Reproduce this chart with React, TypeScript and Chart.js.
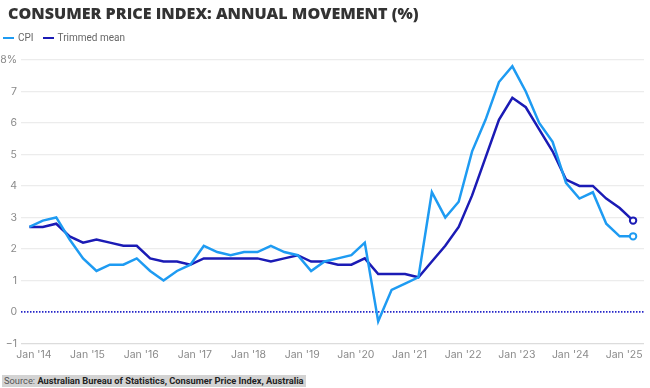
import React, { useEffect, useRef } from "react";
import { Chart, registerables } from "chart.js";

Chart.register(...registerables);

const quarters = [
  "2013-12", "2014-03", "2014-06", "2014-09", "2014-12", "2015-03", "2015-06", "2015-09", "2015-12",
  "2016-03", "2016-06", "2016-09", "2016-12", "2017-03", "2017-06", "2017-09", "2017-12",
  "2018-03", "2018-06", "2018-09", "2018-12", "2019-03", "2019-06", "2019-09", "2019-12",
  "2020-03", "2020-06", "2020-09", "2020-12", "2021-03", "2021-06", "2021-09", "2021-12",
  "2022-03", "2022-06", "2022-09", "2022-12", "2023-03", "2023-06", "2023-09", "2023-12",
  "2024-03", "2024-06", "2024-09", "2024-12", "2025-03",
];

const cpi = [
  2.7, 2.9, 3.0, 2.3, 1.7, 1.3, 1.5, 1.5, 1.7,
  1.3, 1.0, 1.3, 1.5, 2.1, 1.9, 1.8, 1.9,
  1.9, 2.1, 1.9, 1.8, 1.3, 1.6, 1.7, 1.8,
  2.2, -0.3, 0.7, 0.9, 1.1, 3.8, 3.0, 3.5,
  5.1, 6.1, 7.3, 7.8, 7.0, 6.0, 5.4, 4.1,
  3.6, 3.8, 2.8, 2.4, 2.4,
];

const trimmedMean = [
  2.7, 2.7, 2.8, 2.4, 2.2, 2.3, 2.2, 2.1, 2.1,
  1.7, 1.6, 1.6, 1.5, 1.7, 1.7, 1.7, 1.7,
  1.7, 1.6, 1.7, 1.8, 1.6, 1.6, 1.5, 1.5,
  1.7, 1.2, 1.2, 1.2, 1.1, 1.6, 2.1, 2.7,
  3.7, 4.9, 6.1, 6.8, 6.5, 5.8, 5.1, 4.2,
  4.0, 4.0, 3.6, 3.3, 2.9,
];

const yTicks = [-1, 0, 1, 2, 3, 4, 5, 6, 7, 8];
const xTickYears = [2014, 2015, 2016, 2017, 2018, 2019, 2020, 2021, 2022, 2023, 2024, 2025];

const CPI_COLOR = "#1e9bf2";
const TM_COLOR = "#1b1bb5";

function toYear(q: string): number {
  const [y, m] = q.split("-").map(Number);
  return y + (m - 1) / 12;
}

const zeroLinePlugin = {
  id: "zeroLine",
  beforeDatasetsDraw(chart: any) {
    const { ctx, chartArea, scales } = chart;
    const y = scales.y.getPixelForValue(0);
    ctx.save();
    ctx.strokeStyle = "#2626c8";
    ctx.lineWidth = 1.6;
    ctx.setLineDash([1.5, 1.5]);
    ctx.beginPath();
    ctx.moveTo(chartArea.left, y);
    ctx.lineTo(chartArea.right, y);
    ctx.stroke();
    ctx.restore();
  },
};

export default function App() {
  const ref = useRef<HTMLCanvasElement>(null);

  useEffect(() => {
    document.body.style.margin = "0";
    const last = quarters.length - 1;
    const mk = (label: string, data: number[], color: string) => ({
      label,
      data: quarters.map((q, i) => ({ x: toYear(q), y: data[i] })),
      borderColor: color,
      backgroundColor: "#ffffff",
      borderWidth: 2.5,
      pointRadius: (c: any) => (c.dataIndex === last ? 3.2 : 0),
      pointBorderWidth: 2,
      pointBorderColor: color,
      pointBackgroundColor: "#ffffff",
      tension: 0,
    });
    const chart = new Chart(ref.current!, {
      type: "line",
      data: {
        datasets: [mk("CPI", cpi, CPI_COLOR), mk("Trimmed mean", trimmedMean, TM_COLOR)],
      },
      plugins: [zeroLinePlugin],
      options: {
        animation: false,
        responsive: false,
        maintainAspectRatio: false,
        layout: { padding: { top: 60, right: 5, bottom: 22, left: 0 } },
        plugins: {
          legend: { display: false },
          tooltip: { enabled: false },
          title: { display: false },
        },
        scales: {
          x: {
            type: "linear",
            min: 2013.76,
            max: 2025.37,
            afterBuildTicks: (axis: any) => {
              axis.ticks = xTickYears.map((v) => ({ value: v }));
            },
            ticks: {
              callback: (v: any) => "Jan '" + String(v).slice(2),
              color: "#8a8a8a",
              font: { family: "Inter, 'Noto Sans', sans-serif", size: 10.5 },
              padding: 5,
              maxRotation: 0,
              autoSkip: false,
            },
            grid: { display: false, drawTicks: false },
            border: { display: false },
          },
          y: {
            min: -1,
            max: 8,
            afterBuildTicks: (axis: any) => {
              axis.ticks = yTicks.map((v) => ({ value: v }));
            },
            afterFit: (axis: any) => {
              axis.width = 21;
            },
            ticks: {
              callback: (v: any) => (v === 8 ? "8%" : v < 0 ? "\u2212" + Math.abs(v) : String(v)),
              color: "#8a8a8a",
              font: { family: "Inter, 'Noto Sans', sans-serif", size: 10.5 },
              padding: 4,
            },
            grid: {
              color: (c: any) => (c.tick && c.tick.value === 0 ? "rgba(0,0,0,0)" : c.tick && c.tick.value === -1 ? "#dcdcdc" : "#ececec"),
              lineWidth: 1.3,
              drawTicks: false,
            },
            border: { display: false },
          },
        },
      },
    });
    return () => chart.destroy();
  }, []);

  const legendItem = (color: string, text: string) => (
    <span style={{ display: "inline-flex", alignItems: "center", marginRight: 9 }}>
      <span style={{ display: "inline-block", width: 11, height: 2.5, background: color, marginRight: 4 }} />
      <span>{text}</span>
    </span>
  );

  return (
    <div style={{ position: "relative", width: 650, height: 388, overflow: "hidden", background: "#fff" }}>
      <canvas ref={ref} width={650} height={388} style={{ position: "absolute", left: 0, top: 0 }} />
      <div
        style={{
          position: "absolute",
          left: 8,
          top: 2,
          fontFamily: "'Open Sans', sans-serif",
          fontWeight: 800,
          fontSize: 16.1,
          color: "#333333",
          whiteSpace: "nowrap",
        }}
      >
        CONSUMER PRICE INDEX: ANNUAL MOVEMENT (%)
      </div>
      <div
        style={{
          position: "absolute",
          left: 3,
          top: 30,
          fontFamily: "Roboto, 'Noto Sans', sans-serif",
          fontSize: 10,
          color: "#666",
          whiteSpace: "nowrap",
        }}
      >
        {legendItem(CPI_COLOR, "CPI")}
        {legendItem(TM_COLOR, "Trimmed mean")}
      </div>
      <div
        style={{
          position: "absolute",
          left: 2,
          top: 375,
          fontFamily: "Roboto, 'Noto Sans', sans-serif",
          fontSize: 9.3,
          lineHeight: "12px",
          background: "#d3d3d3",
          padding: "0 2px",
          color: "#555",
          whiteSpace: "nowrap",
        }}
      >
        Source: <span style={{ fontWeight: 700, color: "#222" }}>Australian Bureau of Statistics, Consumer Price Index, Australia</span>
      </div>
    </div>
  );
}
